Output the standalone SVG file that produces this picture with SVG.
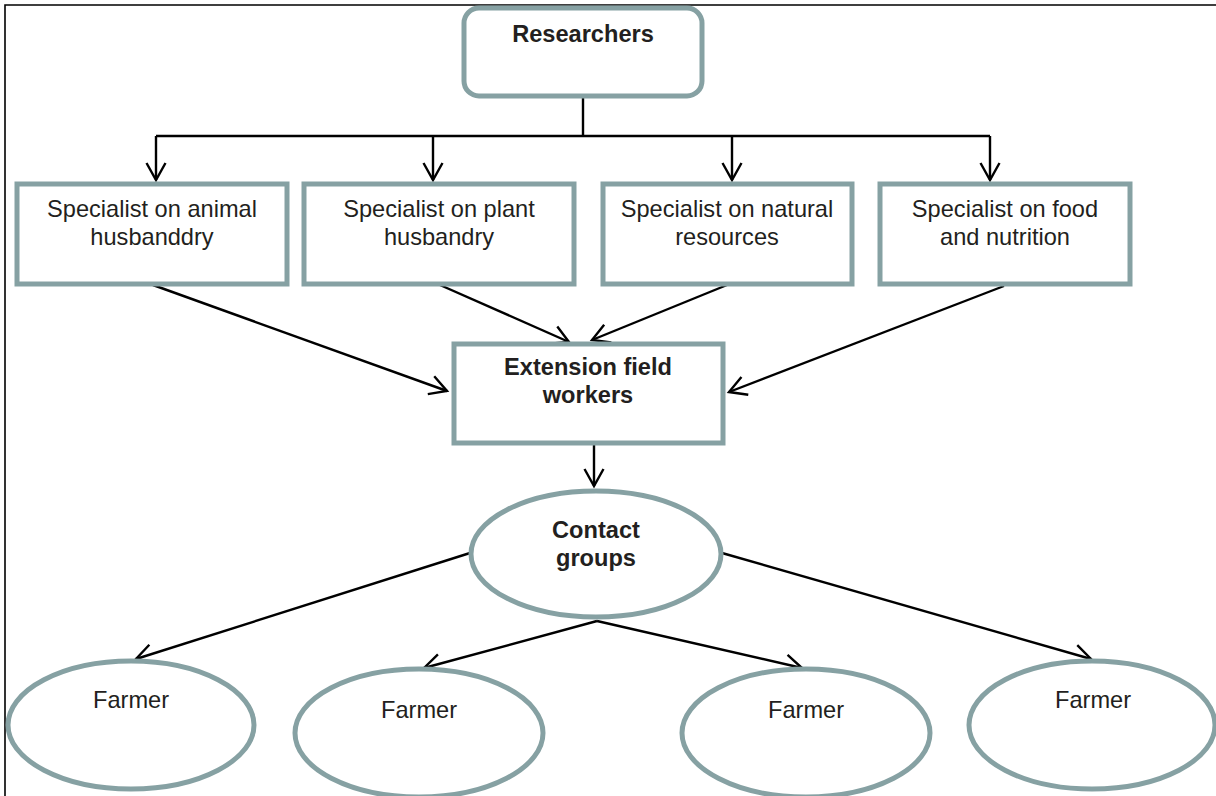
<svg xmlns="http://www.w3.org/2000/svg" width="1216" height="796" viewBox="0 0 1216 796">
<defs>
<marker id="arr" markerUnits="userSpaceOnUse" markerWidth="24" markerHeight="24" viewBox="-20 -12 24 24" refX="0" refY="0" orient="auto">
<path d="M-17,-9.5 L0,0 L-17,9.5" fill="none" stroke="#000" stroke-width="2.4"/>
</marker>
<style>
.box{fill:#fff;stroke:#86A1A3;stroke-width:5}
.t{font-family:"Liberation Sans",Arial,sans-serif;font-size:23.6px;fill:#231F20;text-anchor:middle}
.b{font-weight:bold}
.c{fill:none;stroke:#000;stroke-width:2.4}
.frame{fill:none;stroke:#000;stroke-width:1.6}
</style>
</defs>
<rect width="1216" height="796" fill="#fff"/>
<path class="frame" d="M5,800 L5,5 L1220,5"/>
<g id="connectors">
<path class="c" d="M583,97 L583,136"/>
<path class="c" d="M156,136 L990,136"/>
<path class="c" d="M156,136 L156,180" marker-end="url(#arr)"/>
<path class="c" d="M433,136 L433,180" marker-end="url(#arr)"/>
<path class="c" d="M732,136 L732,180" marker-end="url(#arr)"/>
<path class="c" d="M990,136 L990,180" marker-end="url(#arr)"/>
<path class="c" d="M153,285 L447,391" marker-end="url(#arr)"/>
<path class="c" d="M440,285 L569,342" marker-end="url(#arr)"/>
<path class="c" d="M727,285 L592,340" marker-end="url(#arr)"/>
<path class="c" d="M1004,286 L729,392" marker-end="url(#arr)"/>
<path class="c" d="M594,443 L594,486" marker-end="url(#arr)"/>
<path class="c" d="M470,553 L136,659" marker-end="url(#arr)"/>
<path class="c" d="M722,553 L1091,659" marker-end="url(#arr)"/>
<path class="c" d="M597,621 L424,668" marker-end="url(#arr)"/>
<path class="c" d="M597,621 L802,668" marker-end="url(#arr)"/>
</g>
<g id="researchers">
<rect class="box" x="464" y="8" width="238" height="88" rx="15"/>
<text class="t b" x="583" y="42">Researchers</text>
</g>
<g id="spec-animal">
<rect class="box" x="17" y="184" width="270" height="100"/>
<text class="t" x="152" y="217">Specialist on animal</text>
<text class="t" x="152" y="245">husbanddry</text>
</g>
<g id="spec-plant">
<rect class="box" x="304" y="184" width="270" height="100"/>
<text class="t" x="439" y="217">Specialist on plant</text>
<text class="t" x="439" y="245">husbandry</text>
</g>
<g id="spec-natural">
<rect class="box" x="603" y="184" width="249" height="100"/>
<text class="t" x="727" y="217">Specialist on natural</text>
<text class="t" x="727" y="245">resources</text>
</g>
<g id="spec-food">
<rect class="box" x="880" y="184" width="250" height="100"/>
<text class="t" x="1005" y="217">Specialist on food</text>
<text class="t" x="1005" y="245">and nutrition</text>
</g>
<g id="extension">
<rect class="box" x="454" y="344" width="269" height="99"/>
<text class="t b" x="588" y="375">Extension field</text>
<text class="t b" x="588" y="403">workers</text>
</g>
<g id="contact">
<ellipse class="box" cx="596" cy="554" rx="125" ry="63"/>
<text class="t b" x="596" y="538">Contact</text>
<text class="t b" x="596" y="566">groups</text>
</g>
<g id="farmer1">
<ellipse class="box" cx="131" cy="725" rx="123" ry="64"/>
<text class="t" x="131" y="708">Farmer</text>
</g>
<g id="farmer2">
<ellipse class="box" cx="419" cy="733" rx="124" ry="64"/>
<text class="t" x="419" y="718">Farmer</text>
</g>
<g id="farmer3">
<ellipse class="box" cx="806" cy="733" rx="124" ry="64"/>
<text class="t" x="806" y="718">Farmer</text>
</g>
<g id="farmer4">
<ellipse class="box" cx="1092" cy="725" rx="123" ry="64"/>
<text class="t" x="1093" y="708">Farmer</text>
</g>
</svg>
